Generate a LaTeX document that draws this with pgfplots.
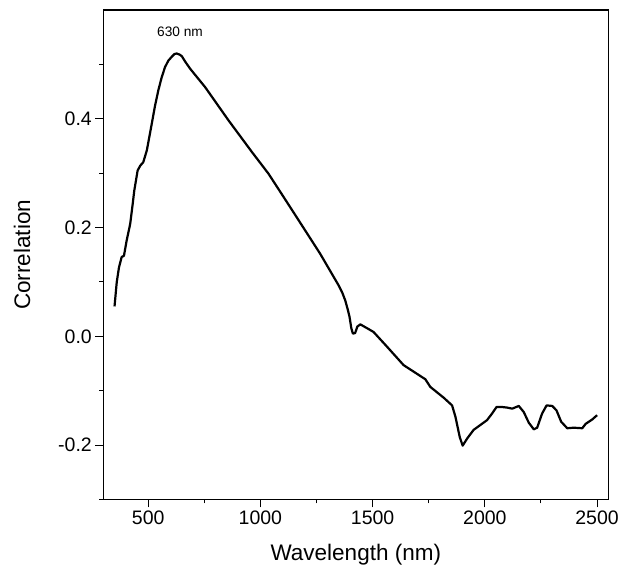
\documentclass[border=0pt]{standalone}
\usepackage{fontspec}
\setmainfont{Liberation Sans}
\usepackage{pgfplots}
\pgfplotsset{compat=1.18}

\pgfplotstableread{
wl corr
350 0.055
360 0.100
370 0.127
382 0.146
392 0.148
404 0.176
420 0.207
430 0.240
438 0.268
453 0.305
465 0.314
478 0.320
494 0.342
516 0.391
530 0.423
545 0.452
560 0.476
575 0.495
590 0.507
605 0.514
617 0.519
627 0.520
640 0.518
650 0.515
665 0.505
687 0.492
754 0.458
858 0.397
962 0.339
1036 0.299
1088 0.266
1160 0.220
1266 0.152
1348 0.094
1365 0.080
1378 0.066
1390 0.048
1397 0.036
1405 0.015
1412 0.005
1422 0.006
1432 0.018
1445 0.022
1475 0.015
1504 0.008
1564 -0.019
1638 -0.053
1683 -0.065
1735 -0.079
1757 -0.093
1817 -0.113
1854 -0.127
1869 -0.148
1888 -0.185
1901 -0.201
1921 -0.188
1950 -0.172
1980 -0.163
2010 -0.154
2032 -0.142
2052 -0.130
2077 -0.130
2099 -0.131
2122 -0.133
2151 -0.128
2173 -0.139
2196 -0.159
2218 -0.171
2233 -0.168
2255 -0.142
2275 -0.127
2300 -0.128
2319 -0.136
2340 -0.157
2367 -0.169
2396 -0.168
2434 -0.169
2449 -0.161
2478 -0.153
2500 -0.145
}\corrdata

\begin{document}
\begin{tikzpicture}
\begin{axis}[
  name=ax,
  scale only axis,
  width=505bp, height=489.5bp,
  xmin=300, xmax=2550,
  ymin=-0.3, ymax=0.6,
  xtick={500,1000,1500,2000,2500},
  ytick={-0.2,0,0.2,0.4},
  minor xtick={750,1250,1750,2250},
  minor ytick={-0.3,-0.1,0.1,0.3,0.5},
  tick align=outside,
  xtick pos=bottom, ytick pos=left,
  major tick length=8bp,
  minor tick length=4bp,
  every tick/.style={black, line width=1bp},
  axis line style={black, line width=1.2bp},
  tick label style={font=\fontsize{19.5bp}{22bp}\selectfont},
  /pgf/number format/assume math mode=true,
  xticklabel style={/pgf/number format/1000 sep={}},
  yticklabel style={/pgf/number format/fixed,
                    /pgf/number format/fixed zerofill,
                    /pgf/number format/precision=1},
  scaled ticks=false,
  xlabel={Wavelength (nm)},
  ylabel={Correlation},
  label style={font=\fontsize{22.5bp}{25bp}\selectfont},
  xlabel style={at={(axis description cs:0.5,0)}, anchor=center, yshift=-55bp},
  ylabel style={at={(axis description cs:0,0.5)}, anchor=center, yshift=81.3bp},
]
\addplot[black, line width=2.2bp, line join=round] table[x=wl, y=corr] {\corrdata};
\node[font=\fontsize{13.7bp}{15bp}\selectfont] at (axis cs:642,0.56) {630 nm};
\end{axis}
\path (ax.south west) ++(-103.3bp,-76.5bp);
\path (ax.north east) ++(14.7bp,10bp);
\end{tikzpicture}
\end{document}
